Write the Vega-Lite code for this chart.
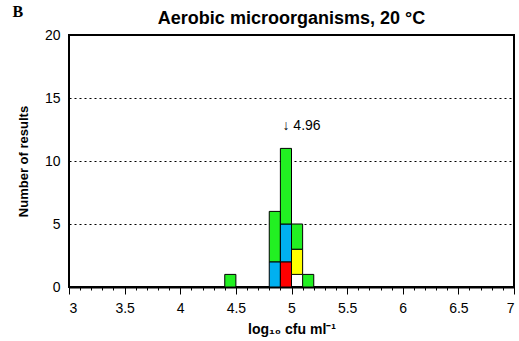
{
  "$schema": "https://vega.github.io/schema/vega-lite/v6.json",
  "width": 445,
  "height": 252,
  "autosize": "none",
  "padding": {"left": 69, "top": 35, "right": 5, "bottom": 54},
  "config": {
    "view": {"stroke": "black", "strokeWidth": 2},
    "axis": {"labelFont": "Liberation Sans", "titleFont": "Liberation Sans", "labelColor": "black", "titleColor": "black", "labelFontSize": 14, "titleFontSize": 14}
  },
  "datasets": {
    "bars": [
      {"x0": 4.4, "x1": 4.5, "y0": 0, "y1": 1, "c": "green"},
      {"x0": 4.8, "x1": 4.9, "y0": 0, "y1": 2, "c": "blue"},
      {"x0": 4.8, "x1": 4.9, "y0": 2, "y1": 6, "c": "green"},
      {"x0": 4.9, "x1": 5.0, "y0": 0, "y1": 2, "c": "red"},
      {"x0": 4.9, "x1": 5.0, "y0": 2, "y1": 5, "c": "blue"},
      {"x0": 4.9, "x1": 5.0, "y0": 5, "y1": 11, "c": "green"},
      {"x0": 5.0, "x1": 5.1, "y0": 1, "y1": 3, "c": "yellow"},
      {"x0": 5.0, "x1": 5.1, "y0": 3, "y1": 5, "c": "green"},
      {"x0": 5.1, "x1": 5.2, "y0": 0, "y1": 1, "c": "green"}
    ],
    "notes": [
      {"x": 5.09, "y": 12.75, "label": "↓ 4.96", "kind": "note"},
      {"x": 2.54, "y": 21.8, "label": "B", "kind": "panel"},
      {"x": 5.0, "y": 21.3, "label": "Aerobic microorganisms, 20 °C", "kind": "title"}
    ]
  },
  "layer": [
    {
      "data": {"name": "bars"},
      "mark": {"type": "text"},
      "encoding": {
        "x": {"field": "x0", "type": "quantitative", "scale": {"domain": [3, 7], "nice": false, "zero": false},
          "axis": {"orient": "bottom", "values": [3,3.1,3.2,3.3,3.4,3.5,3.6,3.7,3.8,3.9,4,4.1,4.2,4.3,4.4,4.5,4.6,4.7,4.8,4.9,5,5.1,5.2,5.3,5.4,5.5,5.6,5.7,5.8,5.9,6,6.1,6.2,6.3,6.4,6.5,6.6,6.7,6.8,6.9,7], "labels": false, "title": null, "domain": false, "grid": false, "tickSize": 3, "tickColor": "black", "tickWidth": 1}},
        "y": {"field": "y0", "type": "quantitative", "scale": {"domain": [0, 20], "nice": false},
          "axis": {"values": [0,5,10,15,20], "grid": true, "gridDash": [2,3], "gridColor": "black", "gridWidth": 1, "gridOpacity": 1, "ticks": false, "domain": false, "labelPadding": 9, "title": "Number of results", "titleFontWeight": "bold", "titleFontSize": 13, "titlePadding": 14}},
        "text": {"value": ""}
      }
    },
    {
      "data": {"name": "bars"},
      "mark": {"type": "rect", "stroke": "black", "strokeWidth": 1},
      "encoding": {
        "x": {"field": "x0", "type": "quantitative",
          "axis": {"orient": "bottom", "values": [3,3.5,4,4.5,5,5.5,6,6.5,7], "format": "~g", "grid": false, "domain": true, "domainColor": "black", "domainWidth": 2, "tickSize": 7, "tickColor": "black", "tickWidth": 1, "labelPadding": 7, "title": "log₁₀ cfu ml⁻¹", "titleFontWeight": "bold", "titleFontSize": 14, "titlePadding": 7}},
        "x2": {"field": "x1"},
        "y": {"field": "y0", "type": "quantitative"},
        "y2": {"field": "y1"},
        "fill": {"field": "c", "type": "nominal", "legend": null,
          "scale": {"domain": ["green", "blue", "red", "yellow"], "range": ["#22F022", "#00B0F0", "#FF0000", "#FFFF00"]}}
      }
    },
    {
      "data": {"name": "notes"},
      "transform": [{"filter": "datum.kind === 'note'"}],
      "mark": {"type": "text", "font": "Liberation Sans", "fontSize": 14, "align": "center", "baseline": "middle", "color": "black"},
      "encoding": {
        "x": {"field": "x", "type": "quantitative", "axis": null},
        "y": {"field": "y", "type": "quantitative"},
        "text": {"field": "label"}
      }
    },
    {
      "data": {"name": "notes"},
      "transform": [{"filter": "datum.kind === 'title'"}],
      "mark": {"type": "text", "font": "Liberation Sans", "fontSize": 18, "fontWeight": "bold", "align": "center", "baseline": "middle", "color": "black", "clip": false},
      "encoding": {
        "x": {"field": "x", "type": "quantitative", "axis": null},
        "y": {"field": "y", "type": "quantitative"},
        "text": {"field": "label"}
      }
    },
    {
      "data": {"name": "notes"},
      "transform": [{"filter": "datum.kind === 'panel'"}],
      "mark": {"type": "text", "font": "Liberation Serif", "fontSize": 16, "fontWeight": "bold", "align": "center", "baseline": "middle", "color": "black", "clip": false},
      "encoding": {
        "x": {"field": "x", "type": "quantitative", "axis": null},
        "y": {"field": "y", "type": "quantitative"},
        "text": {"field": "label"}
      }
    }
  ],
  "resolve": {"axis": {"x": "independent"}}
}
